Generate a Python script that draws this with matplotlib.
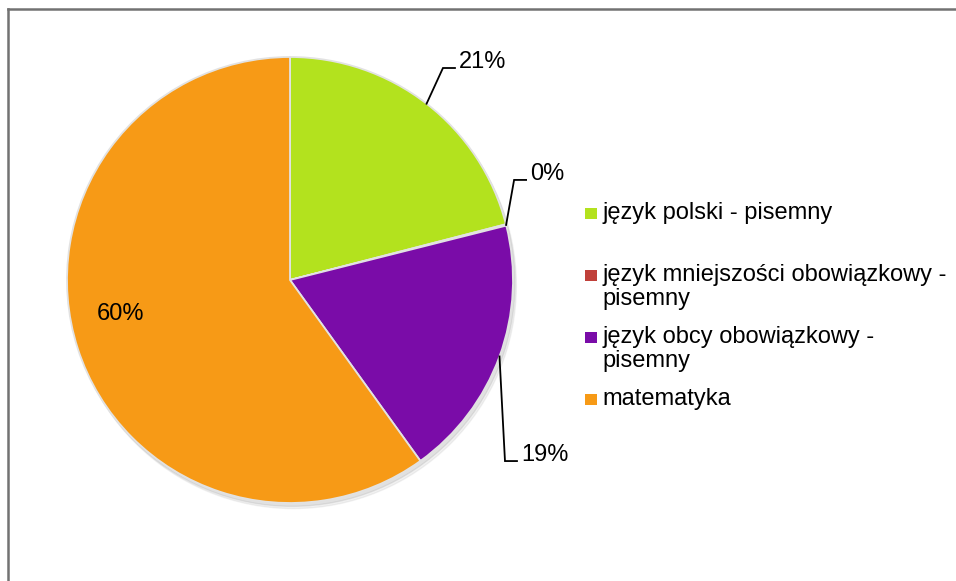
import matplotlib.pyplot as plt
import matplotlib.patches as mpatches
from matplotlib.lines import Line2D
import numpy as np

plt.rcParams['font.family'] = ['Liberation Sans', 'DejaVu Sans']

# data
categories = ['język polski - pisemny',
              'język mniejszości obowiązkowy -\npisemny',
              'język obcy obowiązkowy -\npisemny',
              'matematyka']
values = [21, 0.1, 19, 60]
pct_labels = ['21%', '0%', '19%', '60%']
colors = ['#b3e21e', '#c0403a', '#7a0ca8', '#f79a16']

W, H = 956, 581
fig = plt.figure(figsize=(W / 100, H / 100), dpi=100)

# pie axes: centre (290, 280) px, radius 223 px
cx, cy, R = 290, 280, 223
ax = fig.add_axes([(cx - R) / W, (H - cy - R) / H, 2 * R / W, 2 * R / H])
wedges, _ = ax.pie(values, colors=colors, startangle=90, counterclock=False,
                   wedgeprops=dict(edgecolor='#e2e2e2', linewidth=1.3))
ax.set_xlim(-1, 1)
ax.set_ylim(-1, 1)
ax.axis('off')

# soft shadow behind the pie
for off, a in [(0.025, 0.10), (0.015, 0.15)]:
    ax.add_patch(mpatches.Circle((off * 0.6, -off), 1.0, color='#808080',
                                 alpha=a, zorder=0, clip_on=False))

px = 1.0 / R  # one pixel in data units
FS = 17

# outside labels with elbow leaders: (elbow dx, elbow dy) in pixels, dy up
leaders = {0: (16.4, 35.7), 1: (8, 45), 2: (5.5, -104.6)}
for i, (edx, edy) in leaders.items():
    w = wedges[i]
    mid = np.deg2rad((w.theta1 + w.theta2) / 2)
    x0, y0 = np.cos(mid), np.sin(mid)
    x1, y1 = x0 + edx * px, y0 + edy * px
    x2 = x1 + 12 * px
    ax.plot([x0, x1, x2], [y0, y1, y1], color='black', lw=1.3,
            solid_joinstyle='miter', clip_on=False)
    ax.text(x2 + 4 * px, y1, pct_labels[i], fontsize=FS, ha='left',
            va='baseline', clip_on=False)

# inside label for the big slice
ax.text((121 - cx) * px, (cy - 320) * px, pct_labels[3], fontsize=FS,
        ha='center', va='baseline')

# legend drawn by hand (markers 12x11 px, baselines every 62 px)
for i, (lab, col) in enumerate(zip(categories, colors)):
    base = 219 + 62 * i
    fig.patches.append(mpatches.Rectangle((585 / W, (H - base) / H), 12 / W, 11 / H,
                                          transform=fig.transFigure,
                                          facecolor=col, edgecolor='none'))
    for j, line in enumerate(lab.split('\n')):
        fig.text(602 / W, (H - base - 24 * j) / H, line, fontsize=FS,
                 ha='left', va='baseline')

# chart frame (only top and left edges are inside the picture)
fig.lines.append(Line2D([8 / W, 8 / W], [0, (H - 9) / H], transform=fig.transFigure,
                        color='#727272', lw=1.8))
fig.lines.append(Line2D([8 / W, 1], [(H - 9) / H, (H - 9) / H], transform=fig.transFigure,
                        color='#727272', lw=1.8))

fig.savefig('out.png', dpi=100)
